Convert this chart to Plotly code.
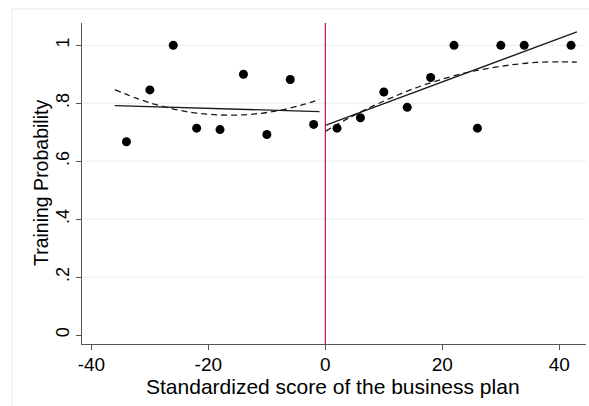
import plotly.graph_objects as go

# Binned means of training take-up by standardized business-plan score
bin_x = [-34, -30, -26, -22, -18, -14, -10, -6, -2,
         2, 6, 10, 14, 18, 22, 26, 30, 34, 42]
bin_y = [0.667, 0.846, 1.0, 0.714, 0.709, 0.900, 0.692, 0.882, 0.727,
         0.714, 0.750, 0.839, 0.786, 0.889, 1.0, 0.714, 1.0, 1.0, 1.0]

# Linear fits on each side of the cutoff
lin_left_x = [-36, -1]
lin_left_y = [0.792, 0.771]
lin_right_x = [0, 43]
lin_right_y = [0.724, 1.046]

# Quadratic fits on each side of the cutoff
quad_left_x = [-36, -32, -28, -24, -20, -16, -12, -8, -4, -1]
quad_left_y = [0.847, 0.815, 0.790, 0.772, 0.762, 0.759, 0.763, 0.775, 0.794, 0.813]
quad_right_x = [0, 4, 8, 12, 16, 20, 24, 28, 32, 36, 40, 43]
quad_right_y = [0.703, 0.749, 0.789, 0.825, 0.857, 0.883, 0.905, 0.921, 0.933, 0.941, 0.943, 0.942]

x_ticks = [-40, -20, 0, 20, 40]
x_tick_text = ["-40", "-20", "0", "20", "40"]
y_ticks = [0, 0.2, 0.4, 0.6, 0.8, 1]
y_tick_text = ["0", ".2", ".4", ".6", ".8", "1"]
grid_levels = [0.2, 0.4, 0.6, 0.8, 1]

x_title = "Standardized score of the business plan"
y_title = "Training Probability"

FONT = "Liberation Sans, Arial, sans-serif"
X_RANGE = [-41.6, 44.56]
Y_RANGE = [-0.031, 1.077]

fig = go.Figure()

for xs, ys in [(quad_left_x, quad_left_y), (quad_right_x, quad_right_y)]:
    fig.add_trace(go.Scatter(x=xs, y=ys, mode="lines", line_shape="spline",
                             line=dict(color="#1a1a1a", width=1.3, dash="6px,4px"),
                             showlegend=False, hoverinfo="skip"))

for xs, ys in [(lin_left_x, lin_left_y), (lin_right_x, lin_right_y)]:
    fig.add_trace(go.Scatter(x=xs, y=ys, mode="lines",
                             line=dict(color="#1a1a1a", width=1.3),
                             showlegend=False, hoverinfo="skip"))

fig.add_trace(go.Scatter(x=bin_x, y=bin_y, mode="markers",
                         marker=dict(color="black", size=9),
                         showlegend=False))

shapes = []
# light horizontal gridlines
for g in grid_levels:
    shapes.append(dict(type="line", xref="paper", yref="y", x0=0, x1=1, y0=g, y1=g,
                       line=dict(color="#e6eeef", width=1), layer="below"))
# cutoff marker
shapes.append(dict(type="line", xref="x", yref="paper", x0=0, x1=0, y0=0, y1=1,
                   line=dict(color="#c0143c", width=1.2)))
# outer graph-region frame
shapes.append(dict(type="line", xref="paper", yref="paper", x0=-0.139, x1=1.02,
                   y0=1.0436, y1=1.0436, line=dict(color="#e4ecee", width=1)))
shapes.append(dict(type="line", xref="paper", yref="paper", x0=-0.139, x1=-0.139,
                   y0=-0.2, y1=1.0436, line=dict(color="#e4ecee", width=1)))

# axis titles placed as annotations for finer positioning
annotations = [
    dict(text=x_title, xref="paper", yref="paper", x=0.499, y=-0.131,
         xanchor="center", yanchor="middle", showarrow=False,
         font=dict(size=21, family=FONT, color="black")),
    dict(text=y_title, xref="paper", yref="paper", x=-0.0823, y=0.5,
         xanchor="center", yanchor="middle", showarrow=False, textangle=-90,
         font=dict(size=19.5, family=FONT, color="black")),
]

fig.update_layout(
    width=589, height=406,
    margin=dict(l=82, r=3, t=23, b=62),
    paper_bgcolor="white", plot_bgcolor="white",
    font=dict(family=FONT, size=18, color="black"),
    shapes=shapes,
    annotations=annotations,
    xaxis=dict(range=X_RANGE, tickvals=x_ticks, ticktext=x_tick_text,
               showgrid=False, zeroline=False,
               showline=True, linecolor="#555555", linewidth=1.3,
               ticks="outside", ticklen=5, tickcolor="#555555",
               ticklabelstandoff=-2,
               tickfont=dict(size=19)),
    yaxis=dict(range=Y_RANGE, tickvals=y_ticks, ticktext=y_tick_text, tickangle=-90,
               showgrid=False, zeroline=False,
               showline=True, linecolor="#555555", linewidth=1.3,
               ticks="outside", ticklen=5, tickcolor="#555555",
               tickfont=dict(size=18)),
)

fig.write_html("out.html")
